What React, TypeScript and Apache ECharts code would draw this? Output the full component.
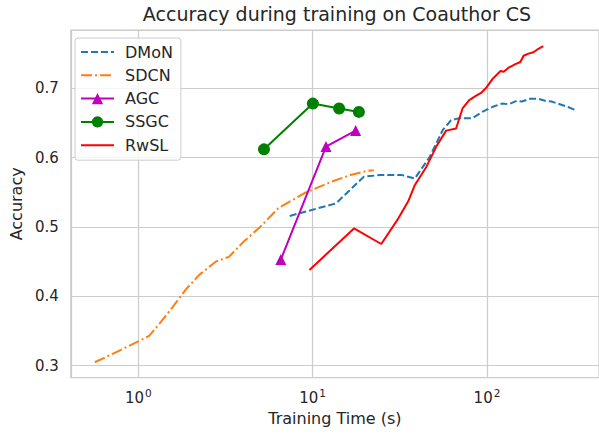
import React, { useEffect, useRef } from "react";
import * as echarts from "echarts";

const titleText = "Accuracy during training on Coauthor CS";
const xName = "Training Time (s)";
const yName = "Accuracy";

const dmonTime = [7.39, 13.59, 19.66, 24.43, 32.43, 38.57, 46.9, 55.8, 62.3, 69.4, 82.6, 94.0, 107.2, 122.1, 133.3, 148.5, 158.6, 176.9, 197.1, 215.1, 234.6, 261.6, 291.6, 325.1];
const dmonAcc = [0.516, 0.534, 0.5725, 0.575, 0.575, 0.57, 0.601, 0.64, 0.654, 0.657, 0.657, 0.666, 0.673, 0.678, 0.677, 0.682, 0.681, 0.685, 0.685, 0.682, 0.681, 0.677, 0.673, 0.668];

const sdcnTime = [0.563, 0.753, 1.0, 1.154, 1.327, 1.578, 1.877, 2.237, 2.778, 3.309, 4.025, 4.999, 6.35, 8.99, 12.73, 16.52, 20.55, 22.4];
const sdcnAcc = [0.305, 0.32, 0.335, 0.343, 0.361, 0.385, 0.41, 0.431, 0.45, 0.457, 0.479, 0.5, 0.527, 0.549, 0.565, 0.575, 0.581, 0.582];

const agcTime = [6.57, 11.93, 17.64];
const agcAcc = [0.453, 0.616, 0.639];

const ssgcTime = [5.26, 10.03, 14.19, 18.42];
const ssgcAcc = [0.612, 0.678, 0.671, 0.666];

const rwslTime = [9.59, 17.26, 24.76, 31.03, 35.35, 38.59, 44.96, 51.2, 58.3, 66.5, 72.4, 79.1, 86.3, 92.1, 98.4, 107.2, 119.6, 124.8, 133.3, 145.5, 155.3, 162.2, 173.1, 184.7, 197.1, 210.4];
const rwslAcc = [0.438, 0.498, 0.4755, 0.5125, 0.537, 0.5606, 0.587, 0.616, 0.639, 0.642, 0.671, 0.683, 0.689, 0.693, 0.7, 0.713, 0.725, 0.724, 0.73, 0.735, 0.738, 0.747, 0.75, 0.752, 0.757, 0.761];

const seriesNames = ["DMoN", "SDCN", "AGC", "SSGC", "RwSL"];
const seriesColors = ["#1f77b4", "#ff7f0e", "#bf00bf", "#008000", "#ff0000"];

const zip = (xs: number[], ys: number[]) => xs.map((x, i) => [x, ys[i]]);

const FONT = "DejaVu Sans";
const TEXT = "#262626";
const GRID = "#cccccc";

export default function App() {
  const ref = useRef<HTMLDivElement>(null);
  useEffect(() => {
    if (!ref.current) return;
    const chart = echarts.init(ref.current, undefined, { renderer: "svg" });
    const noSymbolLegend = { itemStyle: { opacity: 0 } };
    chart.setOption({
      animation: false,
      backgroundColor: "#ffffff",
      textStyle: { fontFamily: FONT, color: TEXT },
      title: {
        text: titleText,
        left: 332,
        top: -1,
        textAlign: "center",
        textStyle: { fontFamily: FONT, fontSize: 19, fontWeight: "normal", color: TEXT },
      },
      grid: {
        left: 66.7,
        right: -2,
        top: 30,
        bottom: 57.3,
        show: true,
        borderColor: GRID,
        borderWidth: 1.2,
        backgroundColor: "transparent",
      },
      legend: {
        orient: "vertical",
        left: 75,
        top: 38,
        padding: [6, 8, 7, 5],
        itemWidth: 33,
        itemHeight: 14,
        itemGap: 7.3,
        backgroundColor: "rgba(255,255,255,0.8)",
        borderColor: GRID,
        borderWidth: 1,
        borderRadius: 3,
        textStyle: { fontFamily: FONT, fontSize: 16, color: TEXT, lineHeight: 16, padding: [0, 0, 0, 6] },
        data: [
          { name: "DMoN", ...noSymbolLegend },
          { name: "SDCN", ...noSymbolLegend },
          { name: "AGC" },
          { name: "SSGC" },
          { name: "RwSL", ...noSymbolLegend },
        ],
      },
      xAxis: {
        type: "log",
        logBase: 10,
        min: 0.41,
        max: 439,
        name: xName,
        nameLocation: "middle",
        nameGap: 33,
        nameTextStyle: { fontFamily: FONT, fontSize: 16, color: TEXT },
        axisLine: { show: false },
        axisTick: { show: false },
        minorTick: { show: false },
        splitLine: { show: true, lineStyle: { color: GRID, width: 1.2 } },
        axisLabel: {
          fontFamily: FONT,
          fontSize: 15,
          color: TEXT,
          margin: 9,
          showMinLabel: false,
          showMaxLabel: false,
          formatter: (v: number) => {
            const l = Math.log10(v);
            const e = Math.round(l);
            if (Math.abs(l - e) > 1e-6) return "";
            return "{b|10}{s|" + e + "}";
          },
          rich: {
            b: { fontFamily: FONT, fontSize: 15, color: TEXT, lineHeight: 19, verticalAlign: "bottom" },
            s: { fontFamily: FONT, fontSize: 10.5, color: TEXT, lineHeight: 11, verticalAlign: "top", padding: [1, 0, 0, 1] },
          },
        },
      },
      yAxis: {
        type: "value",
        min: 0.2827,
        max: 0.7841,
        splitNumber: 5,
        name: yName,
        nameLocation: "middle",
        nameGap: 46,
        nameTextStyle: { fontFamily: FONT, fontSize: 16, color: TEXT },
        axisLine: { show: false },
        axisTick: { show: false },
        splitLine: { show: true, lineStyle: { color: GRID, width: 1.2 } },
        axisLabel: {
          fontFamily: FONT,
          fontSize: 15,
          color: TEXT,
          margin: 12,
          showMinLabel: false,
          showMaxLabel: false,
          formatter: (v: number) => {
            const r = Math.round(v * 10) / 10;
            if (Math.abs(v - r) > 1e-6) return "";
            return r.toFixed(1);
          },
        },
      },
      series: [
        {
          name: seriesNames[0],
          type: "line",
          data: zip(dmonTime, dmonAcc),
          symbol: "none",
          color: seriesColors[0],
          lineStyle: { width: 2, type: [7, 3], color: seriesColors[0] },
        },
        {
          name: seriesNames[1],
          type: "line",
          data: zip(sdcnTime, sdcnAcc),
          symbol: "none",
          color: seriesColors[1],
          lineStyle: { width: 2, type: [11, 3, 2, 3], color: seriesColors[1] },
        },
        {
          name: seriesNames[2],
          type: "line",
          data: zip(agcTime, agcAcc),
          symbol: "triangle",
          symbolSize: 11,
          showSymbol: true,
          color: seriesColors[2],
          itemStyle: { color: seriesColors[2] },
          lineStyle: { width: 2, color: seriesColors[2] },
        },
        {
          name: seriesNames[3],
          type: "line",
          data: zip(ssgcTime, ssgcAcc),
          symbol: "circle",
          symbolSize: 12,
          showSymbol: true,
          color: seriesColors[3],
          itemStyle: { color: seriesColors[3] },
          lineStyle: { width: 2, color: seriesColors[3] },
        },
        {
          name: seriesNames[4],
          type: "line",
          data: zip(rwslTime, rwslAcc),
          symbol: "none",
          color: seriesColors[4],
          lineStyle: { width: 2, color: seriesColors[4] },
        },
      ],
    });
    return () => chart.dispose();
  }, []);
  return <div ref={ref} style={{ width: 599, height: 435, position: "fixed", left: 0, top: 0 }} />;
}
